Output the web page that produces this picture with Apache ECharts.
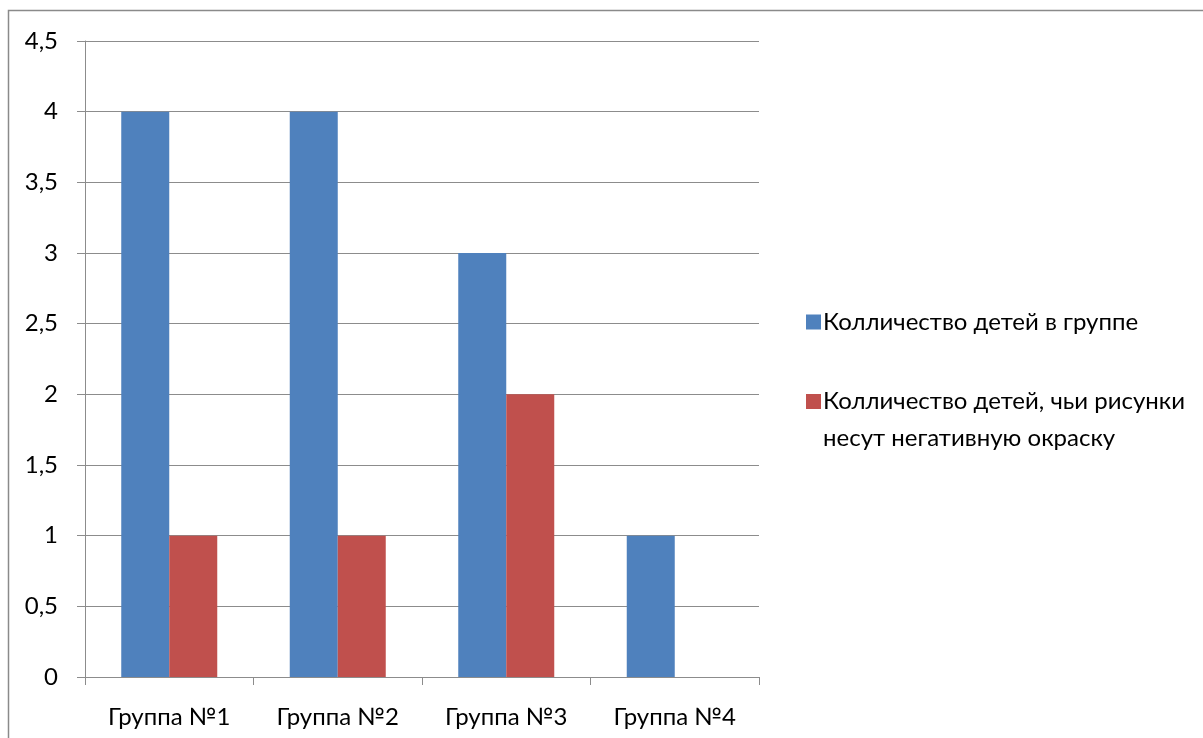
<!DOCTYPE html>
<html>
<head>
<meta charset="utf-8">
<script src="https://cdn.jsdelivr.net/npm/echarts@6/dist/echarts.min.js"></script>
<style>
  html, body { margin: 0; padding: 0; background: #fff; }
  #chart { width: 1203px; height: 738px; }
</style>
</head>
<body>
<div id="chart"></div>
<script>
// Categories and series values
const categories = ['Группа №1', 'Группа №2', 'Группа №3', 'Группа №4'];
const childrenInGroup = [4, 4, 3, 1];
const negativeDrawings = [1, 1, 2, null];
const seriesNames = [
  'Колличество детей в группе',
  'Колличество детей, чьи рисунки\nнесут негативную окраску'
];

const font = 'Lato';
const fontSize = 24;
const gridColor = '#8c8c8c';
const textColor = '#000';
const legendLine = 37;
const box = 15;

// Square marker pinned to the top of a taller icon box, so a two-line
// legend label lines up with its first line.
const tallIconHeight = box + legendLine;
const tallIcon = 'path://M0,0L' + box + ',0L' + box + ',' + box + 'L0,' + box + 'Z' +
  'M0,' + (tallIconHeight - 0.01) + 'L0.01,' + (tallIconHeight - 0.01) +
  'L0.01,' + tallIconHeight + 'L0,' + tallIconHeight + 'Z';

const chart = echarts.init(document.getElementById('chart'), null, { renderer: 'canvas' });

chart.setOption({
  animation: false,
  backgroundColor: '#fff',
  graphic: [{
    type: 'rect',
    silent: true,
    shape: { x: 8.5, y: 10.5, width: 1400, height: 900 },
    style: { fill: 'none', stroke: '#8a8a8a', lineWidth: 1.5 }
  }],
  grid: { left: 85, right: 444, top: 41, bottom: 61, containLabel: false },
  legend: [{
    data: [seriesNames[0]],
    orient: 'vertical',
    left: 801,
    top: 305,
    itemWidth: box,
    itemHeight: box,
    itemGap: 0,
    icon: 'rect',
    textStyle: { fontFamily: font, fontSize: fontSize, color: textColor, padding: [0, 0, 0, -3] }
  }, {
    data: [seriesNames[1]],
    orient: 'vertical',
    left: 801,
    top: 378,
    itemWidth: box,
    itemHeight: tallIconHeight,
    itemGap: 0,
    icon: tallIcon,
    symbolKeepAspect: false,
    textStyle: {
      fontFamily: font, fontSize: fontSize, color: textColor,
      lineHeight: legendLine, padding: [0, 0, 0, -3]
    }
  }],
  xAxis: {
    type: 'category',
    data: categories,
    boundaryGap: true,
    axisLine: { show: true, lineStyle: { color: gridColor, width: 1 } },
    axisTick: { show: true, length: 8, lineStyle: { color: gridColor } },
    axisLabel: { color: textColor, fontSize: fontSize, fontFamily: font, margin: 28 },
    splitLine: { show: false }
  },
  yAxis: {
    type: 'value',
    min: 0,
    max: 4.5,
    interval: 0.5,
    axisLine: { show: true, lineStyle: { color: gridColor, width: 1 } },
    axisTick: { show: true, length: 8, lineStyle: { color: gridColor } },
    axisLabel: {
      color: textColor, fontSize: fontSize, fontFamily: font, margin: 27,
      formatter: v => String(v).replace('.', ',')
    },
    splitLine: { show: true, lineStyle: { color: gridColor, width: 1 } }
  },
  series: [{
    name: seriesNames[0],
    type: 'bar',
    data: childrenInGroup,
    barWidth: 48,
    barGap: '0%',
    itemStyle: { color: '#4F81BD' }
  }, {
    name: seriesNames[1],
    type: 'bar',
    data: negativeDrawings,
    barWidth: 48,
    barGap: '0%',
    itemStyle: { color: '#C0504D' }
  }]
});
</script>
</body>
</html>
